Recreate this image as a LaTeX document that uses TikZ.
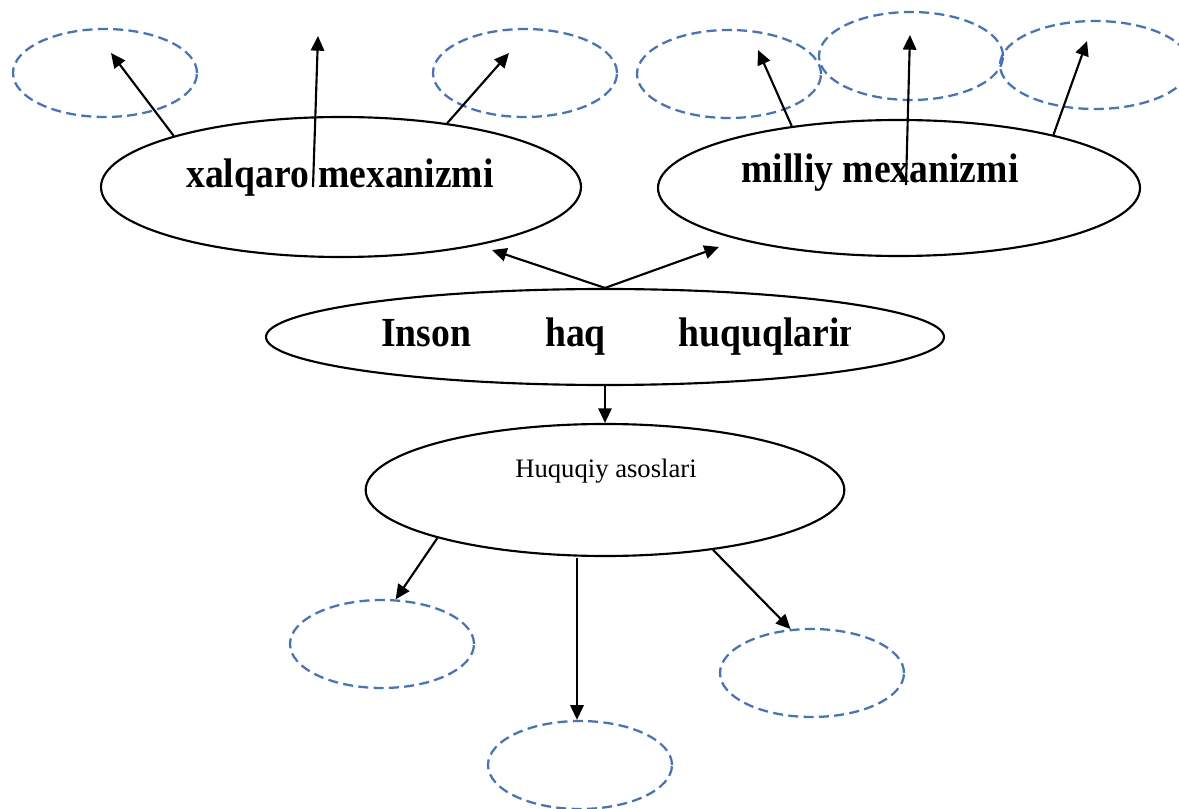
\documentclass[tikz,border=0pt]{standalone}
\usepackage{fontspec}
\setmainfont{Liberation Serif}
\usetikzlibrary{shapes.geometric,arrows.meta}
\definecolor{dashblue}{RGB}{68,114,196}
\newcommand{\narrowtxt}[1]{\scalebox{0.91}[1]{#1}}

\begin{document}
\begin{tikzpicture}[x=0.75pt,y=0.75pt,yscale=-1,xscale=1,
  mainell/.style={draw, ellipse, line width=1.6pt, inner sep=0pt},
  emptyell/.style={draw=dashblue, ellipse, line width=1.7pt, dash pattern=on 7.5pt off 4pt, minimum width=138pt, minimum height=66pt, inner sep=0pt},
  arr/.style={line width=1.6pt, -{Triangle[length=11pt,width=10pt]}},
  bigtxt/.style={font=\fontsize{31}{36}\selectfont\bfseries, inner sep=0pt, anchor=base}]
%set diagram size
\useasboundingbox (0,0) rectangle (1179,809);

%Shape: Ellipse [main]
\node [mainell, minimum width=360pt, minimum height=105pt] (xal) at (341,187) {};
\node [mainell, minimum width=361.5pt, minimum height=102pt] (mil) at (899,188) {};
\node [mainell, minimum width=508.5pt, minimum height=72pt] (ins) at (605,337) {};
\node [mainell, minimum width=359pt, minimum height=99pt] (huq) at (605,490) {};

%Shape: Ellipse [dashed, top]
\node [emptyell] (d1) at (105,73) {};
\node [emptyell] (d2) at (525,73) {};
\node [emptyell] (d3) at (729,74) {};
\node [emptyell] (d4) at (911,56) {};
\node [emptyell, minimum width=142.5pt] (d5) at (1095,65) {};
%Shape: Ellipse [dashed, bottom]
\node [emptyell] (b1) at (382,644) {};
\node [emptyell] (b2) at (812,673) {};
\node [emptyell] (b3) at (580,765) {};

% Text Node
\node [bigtxt] (xaltxt) at (340,188) {\narrowtxt{xalqaro mexanizmi}};
% Text Node
\node [bigtxt] (miltxt) at (880,183) {\narrowtxt{milliy mexanizmi}};
% Text Node
\begin{scope}
\clip (266,280) rectangle (850,400);
\node [bigtxt, anchor=base west] (instxt) at (381,347) {\narrowtxt{Inson\hspace{61pt}haq\hspace{60pt}huquqlarin}};
\end{scope}
% Text Node
\node [font=\fontsize{20}{24}\selectfont, inner sep=0pt, anchor=base] (huqtxt) at (606,477) {Huquqiy asoslari};

%free ends
\coordinate (xalmid) at (313,187);
\coordinate (milmid) at (906,185);
\coordinate (huqmid) at (577,558);
\coordinate (t1) at (111,53);
\coordinate (t2) at (318,36);
\coordinate (t3) at (509,53);
\coordinate (t4) at (492,250);
\coordinate (t5) at (719,247);
\coordinate (t6) at (758,50);
\coordinate (t7) at (910,35);
\coordinate (t8) at (1087,41);

%Straight Lines
\draw [arr] (xal.163) -- (t1);
\draw [arr] (xalmid) -- (t2);
\draw [arr] (xal.31) -- (t3);
\draw [arr] (mil.150) -- (t6);
\draw [arr] (milmid) -- (t7);
\draw [arr] (mil.19) -- (t8);
\draw [arr] (ins.north) -- (t4);
\draw [arr] (ins.north) -- (t5);
\draw [arr] (ins.south) -- (huq.north);
\draw [arr] (huq.196) -- (b1.73);
\draw [arr] (huqmid) -- (huqmid |- b3.north);
\draw [arr] (huq.-29) -- (b2.116);

\end{tikzpicture}
\end{document}
